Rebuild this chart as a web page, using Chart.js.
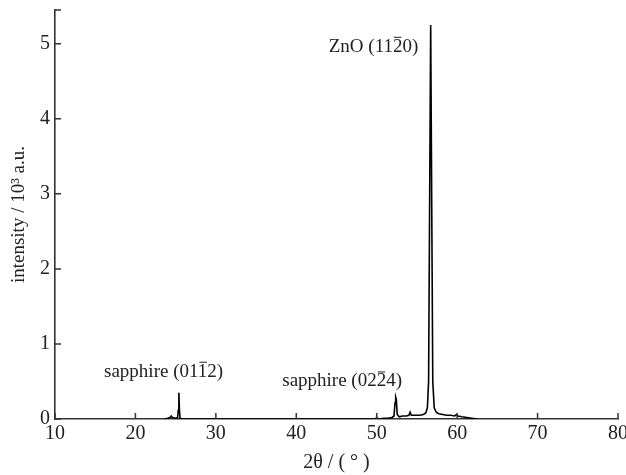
<!DOCTYPE html>
<html>
<head>
<meta charset="utf-8">
<script src="https://cdn.jsdelivr.net/npm/chart.js@4/dist/chart.umd.min.js"></script>
<style>
  html, body { margin: 0; padding: 0; background: #fff; }
  #wrap { width: 626px; height: 475px; }
</style>
</head>
<body>
<div id="wrap"><canvas id="xrd"></canvas></div>
<script>
// XRD pattern, 2theta in degrees, intensity in 10^3 a.u.
var twoTheta = [23.6, 24.0, 24.3, 24.45, 24.6, 25.0, 25.25, 25.33, 25.4, 25.47, 25.55, 25.8, 26.2,
  49.8, 50.0, 50.2, 50.9, 51.4, 51.9, 52.15, 52.28, 52.36, 52.44, 52.55, 52.8, 53.2, 53.7,
  54.0, 54.15, 54.3, 54.7, 55.3, 55.8, 56.1, 56.3, 56.45, 56.71, 56.97, 57.15,
  57.4, 57.7, 58.2, 58.7, 59.2, 59.7, 59.9, 60.1, 60.6, 61.2, 61.8, 62.5];
var intensity = [0.0, 0.01, 0.02, 0.04, 0.02, 0.01, 0.02, 0.12, 0.35, 0.12, 0.01, 0.0, 0.0,
  0.0, 0.02, 0.0, 0.01, 0.01, 0.02, 0.04, 0.22, 0.29, 0.26, 0.06, 0.03, 0.04, 0.04,
  0.05, 0.09, 0.05, 0.05, 0.05, 0.06, 0.08, 0.15, 0.5, 5.25, 0.5, 0.15,
  0.09, 0.07, 0.06, 0.05, 0.05, 0.04, 0.06, 0.04, 0.03, 0.02, 0.01, 0.0];

var xTicks = [10, 20, 30, 40, 50, 60, 70, 80];
var yTicks = [0, 1, 2, 3, 4, 5];

// peak labels: [before bar, barred char, after bar, 2theta, intensity]
var peakLabels = [
  ["ZnO (11", "2", "0)", 49.6, 4.96],
  ["sapphire (01", "1", "2)", 23.5, 0.63],
  ["sapphire (02", "2", "4)", 45.7, 0.50]
];

var ink = "#222";
var serif = "'Liberation Serif', 'Times New Roman', serif";

var points = twoTheta.map(function (t, i) { return { x: t, y: intensity[i] }; });

// inward tick marks + axis end stubs
var innerTicks = {
  id: "innerTicks",
  afterDraw: function (chart) {
    var c = chart.ctx, a = chart.chartArea;
    var xs = chart.scales.x, ys = chart.scales.y;
    c.save();
    c.strokeStyle = "#333";
    c.lineWidth = 1.5;
    c.beginPath();
    xTicks.forEach(function (v) {
      var px = xs.getPixelForValue(v);
      c.moveTo(px, a.bottom);
      c.lineTo(px, a.bottom - 6);
    });
    yTicks.forEach(function (v) {
      var py = ys.getPixelForValue(v);
      c.moveTo(a.left, py);
      c.lineTo(a.left + 6, py);
    });
    c.moveTo(a.left, a.top);
    c.lineTo(a.left + 6, a.top);
    c.stroke();
    c.restore();
  }
};

var labelText = {
  id: "labelText",
  afterDraw: function (chart) {
    var c = chart.ctx;
    var xs = chart.scales.x, ys = chart.scales.y;
    c.save();
    c.font = "19px " + serif;
    c.fillStyle = ink;
    c.strokeStyle = ink;
    c.lineWidth = 1;
    c.textBaseline = "middle";
    peakLabels.forEach(function (p) {
      var full = p[0] + p[1] + p[2];
      var w = c.measureText(full).width;
      var cx = xs.getPixelForValue(p[3]);
      var cy = ys.getPixelForValue(p[4]);
      var x0 = cx - w / 2;
      c.textAlign = "left";
      c.fillText(full, x0, cy);
      // overbar on the barred index
      var bx = x0 + c.measureText(p[0]).width;
      var bw = c.measureText(p[1]).width;
      c.beginPath();
      c.moveTo(bx + 1, cy - 9.5);
      c.lineTo(bx + bw - 1, cy - 9.5);
      c.stroke();
    });
    c.restore();
  }
};

new Chart(document.getElementById("xrd"), {
  type: "line",
  data: {
    datasets: [{
      data: points,
      borderColor: "#000",
      borderWidth: 1.6,
      pointRadius: 0,
      tension: 0,
      fill: false
    }]
  },
  options: {
    responsive: true,
    maintainAspectRatio: false,
    animation: false,
    layout: { padding: { top: 10, right: 8, left: 0, bottom: 0 } },
    plugins: { legend: { display: false }, tooltip: { enabled: false } },
    scales: {
      x: {
        type: "linear",
        min: 10,
        max: 80,
        afterBuildTicks: function (s) {
          s.ticks = xTicks.map(function (v) { return { value: v }; });
        },
        afterFit: function (s) { s.height = 56; s.paddingLeft = 0; s.paddingRight = 0; },
        grid: { display: false, drawTicks: false },
        border: { display: true, color: "#333", width: 1.6 },
        ticks: {
          padding: 3,
          maxRotation: 0,
          color: ink,
          font: { family: serif, size: 20 }
        },
        title: {
          display: true,
          text: "2\u03b8 / ( \u00b0 )",
          color: ink,
          font: { family: serif, size: 20 },
          padding: { top: 0, bottom: 0 }
        }
      },
      y: {
        min: 0,
        max: 5.45,
        afterBuildTicks: function (s) {
          s.ticks = yTicks.map(function (v) { return { value: v }; });
        },
        afterFit: function (s) { s.width = 55; s.paddingTop = 0; s.paddingBottom = 0; },
        grid: { display: false, drawTicks: false },
        border: { display: true, color: "#333", width: 1.6 },
        ticks: {
          padding: 5,
          color: ink,
          font: { family: serif, size: 20 }
        },
        title: {
          display: true,
          text: "intensity / 10\u00b3 a.u.",
          color: ink,
          font: { family: serif, size: 19 },
          padding: { top: 8, bottom: 0 }
        }
      }
    }
  },
  plugins: [innerTicks, labelText]
});
</script>
</body>
</html>
